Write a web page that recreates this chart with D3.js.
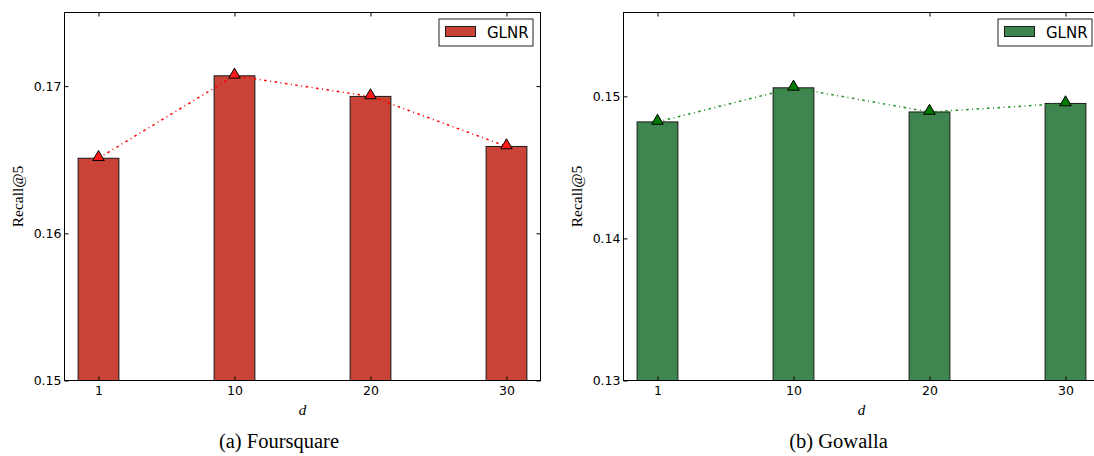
<!DOCTYPE html>
<html>
<head>
<meta charset="utf-8">
<script src="https://cdn.jsdelivr.net/npm/d3@7"></script>
<style>
  html, body { margin: 0; padding: 0; background: #fff; }
  svg { display: block; }
  .tick text { font-family: "DejaVu Sans", sans-serif; font-size: 12.5px; fill: #000; }
</style>
</head>
<body>
<svg id="chart" width="1094" height="456"></svg>
<script>
// values
const dLabels = ["1", "10", "20", "30"];
const foursquareRecall = [0.1651, 0.1707, 0.1693, 0.1659];
const gowallaRecall = [0.1482, 0.1506, 0.1489, 0.1495];
const foursquareTicks = [0.15, 0.16, 0.17];
const gowallaTicks = [0.13, 0.14, 0.15];
const foursquareRange = [0.15, 0.175];
const gowallaRange = [0.13, 0.1559];

var svg = d3.select('#chart');
svg.append('rect').attr('width', 1094).attr('height', 456).attr('fill', '#fff');

var plotW = 476, plotH = 368;

// one panel = bars + dotted line + triangles + legend
function drawPanel(opts) {
  var g = svg.append('g')
      .attr('transform', 'translate(' + opts.left + ',' + opts.top + ')');

  var x = d3.scaleLinear().domain([-0.25, dLabels.length - 0.75]).range([0, plotW]);
  var y = d3.scaleLinear().domain(opts.range).range([plotH, 0]);
  var idx = d3.range(dLabels.length);

  // bars
  g.selectAll('rect.bar')
      .data(opts.values)
      .enter().append('rect')
      .attr('class', 'bar')
      .attr('x', function (d, i) { return x(i - 0.15); })
      .attr('width', function (d, i) { return x(i + 0.15) - x(i - 0.15); })
      .attr('y', function (d) { return y(d); })
      .attr('height', function (d) { return plotH - y(d); })
      .attr('fill', opts.barColor)
      .attr('stroke', '#1a1a1a')
      .attr('stroke-width', 1);

  // dash-dot line through the bar tops
  var line = d3.line()
      .x(function (d, i) { return x(i); })
      .y(function (d) { return y(d); });
  g.append('path')
      .datum(opts.values)
      .attr('d', line)
      .attr('fill', 'none')
      .attr('stroke', opts.lineColor)
      .attr('stroke-width', 1.5)
      .attr('stroke-dasharray', '2.5,3.5,1,3.5');

  g.selectAll('path.marker')
      .data(opts.values)
      .enter().append('path')
      .attr('class', 'marker')
      .attr('d', d3.symbol().type(d3.symbolTriangle).size(58))
      .attr('transform', function (d, i) { return 'translate(' + x(i) + ',' + (y(d) - 1) + ')'; })
      .attr('fill', opts.markerColor)
      .attr('stroke', '#000')
      .attr('stroke-width', 1);

  // axes, ticks pointing inward like matplotlib classic
  g.append('g')
      .attr('transform', 'translate(0,' + plotH + ')')
      .call(d3.axisBottom(x).tickValues(idx).tickFormat(function (i) { return dLabels[i]; })
        .tickSizeInner(-4).tickSizeOuter(0).tickPadding(6));
  g.append('g')
      .call(d3.axisTop(x).tickValues(idx).tickFormat('').tickSizeInner(-4).tickSizeOuter(0));
  g.append('g')
      .call(d3.axisLeft(y).tickValues(opts.ticks).tickFormat(d3.format('.2f'))
        .tickSizeInner(-4).tickSizeOuter(0).tickPadding(3));
  g.append('g')
      .attr('transform', 'translate(' + plotW + ',0)')
      .call(d3.axisRight(y).tickValues(opts.ticks).tickFormat('').tickSizeInner(-4).tickSizeOuter(0));
  g.selectAll('.domain').remove();
  g.selectAll('.tick line').attr('stroke', '#000');

  // frame
  g.append('rect')
      .attr('width', plotW).attr('height', plotH)
      .attr('fill', 'none').attr('stroke', '#000').attr('stroke-width', 1);

  // legend
  var lg = g.append('g').attr('transform', 'translate(' + (plotW - 101.5) + ',6.5)');
  lg.append('rect').attr('width', 94).attr('height', 27)
      .attr('fill', '#fff').attr('stroke', '#222').attr('stroke-width', 1);
  lg.append('rect').attr('x', 6.5).attr('y', 7.5).attr('width', 30).attr('height', 10)
      .attr('fill', opts.barColor).attr('stroke', '#1a1a1a');
  lg.append('text').attr('x', 48).attr('y', 18.5)
      .attr('font-family', 'DejaVu Sans, sans-serif').attr('font-size', 15)
      .text('GLNR');

  // axis labels
  g.append('text')
      .attr('transform', 'translate(' + (opts.ylabelX - opts.left) + ',' + plotH / 2 + ') rotate(-90)')
      .attr('text-anchor', 'middle')
      .attr('font-family', 'Liberation Serif, serif').attr('font-size', 15.5)
      .text('Recall@5');
  g.append('text')
      .attr('x', plotW / 2).attr('y', plotH + 34)
      .attr('text-anchor', 'middle')
      .attr('font-family', 'Liberation Serif, serif').attr('font-style', 'italic').attr('font-size', 15)
      .text('d');

  svg.append('text')
      .attr('x', opts.captionX).attr('y', 448)
      .attr('text-anchor', 'middle')
      .attr('font-family', 'Liberation Serif, serif').attr('font-size', 20.5)
      .text(opts.caption);
}

drawPanel({
  left: 64.5, top: 12.5, values: foursquareRecall, ticks: foursquareTicks, range: foursquareRange,
  barColor: '#c94436', lineColor: '#ff0000', markerColor: '#ff1a1a',
  ylabelX: 23, captionX: 279, caption: '(a) Foursquare'
});
drawPanel({
  left: 623.5, top: 12.5, values: gowallaRecall, ticks: gowallaTicks, range: gowallaRange,
  barColor: '#3f854f', lineColor: '#1f8f1f', markerColor: '#007a00',
  ylabelX: 582, captionX: 838.5, caption: '(b) Gowalla'
});
</script>
</body>
</html>
